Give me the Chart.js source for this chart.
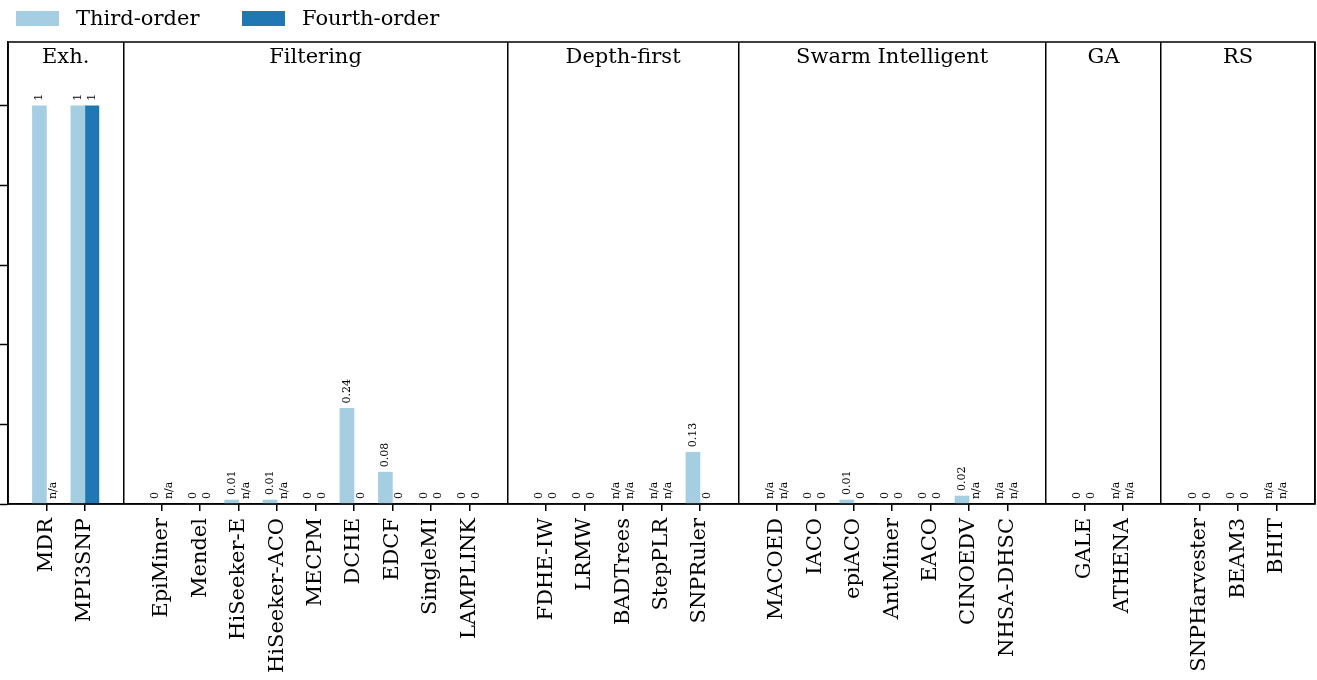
<!DOCTYPE html>
<html>
<head>
<meta charset="utf-8">
<script src="https://cdn.jsdelivr.net/npm/chart.js@4"></script>
<style>
  html, body { margin: 0; padding: 0; background: #fff; }
  #wrap { position: relative; width: 1317px; height: 680px; }
  #chart { position: absolute; left: 0; top: 0; }
  .item { position: absolute; top: 5px; height: 26px; display: flex; align-items: center;
          font-family: "DejaVu Serif", serif; font-size: 21px; color: #000; white-space: nowrap; }
  .swatch { width: 43px; height: 15px; margin-right: 17px; }
</style>
</head>
<body>
<div id="wrap">
  <canvas id="chart" width="1317" height="680"></canvas>
  <div id="legend"></div>
</div>
<script>
// Groups of methods, in drawing order
const groupNames = ["Exh.", "Filtering", "Depth-first", "Swarm Intelligent", "GA", "RS"];
const methods = [
    ["MDR", "MPI3SNP"],
    ["EpiMiner", "Mendel", "HiSeeker-E", "HiSeeker-ACO", "MECPM", "DCHE", "EDCF", "SingleMI", "LAMPLINK"],
    ["FDHE-IW", "LRMW", "BADTrees", "StepPLR", "SNPRuler"],
    ["MACOED", "IACO", "epiACO", "AntMiner", "EACO", "CINOEDV", "NHSA-DHSC"],
    ["GALE", "ATHENA"],
    ["SNPHarvester", "BEAM3", "BHIT"]
];

// null = n/a
const thirdOrder = [
    [1, 1],
    [0, 0, 0.01, 0.01, 0, 0.24, 0.08, 0, 0],
    [0, 0, null, null, 0.13],
    [null, 0, 0.01, 0, 0, 0.02, null],
    [0, null],
    [0, 0, null]
];
const fourthOrder = [
    [null, 1],
    [null, 0, null, null, 0, 0, 0, 0, 0],
    [0, 0, null, null, 0],
    [null, 0, 0, 0, 0, null, null],
    [0, null],
    [0, 0, null]
];

const seriesNames = ["Third-order", "Fourth-order"];
const seriesColors = ["#a6cee3", "#1f78b4"];
const yTicks = [0, 0.2, 0.4, 0.6, 0.8, 1.0];

// Build the category axis with an empty slot between groups
const labels = [""];
const spacer = [true];
const groupSpans = [];
const third = [null], fourth = [null];
const thirdText = [""], fourthText = [""];
const fmt = v => v == null ? "n/a" : String(v);

methods.forEach((list, g) => {
    const start = labels.length - 1;
    list.forEach((m, i) => {
        labels.push(m);
        spacer.push(false);
        third.push(thirdOrder[g][i]);
        fourth.push(fourthOrder[g][i]);
        thirdText.push(fmt(thirdOrder[g][i]));
        fourthText.push(fmt(fourthOrder[g][i]));
    });
    labels.push("");
    spacer.push(true);
    third.push(null); fourth.push(null);
    thirdText.push(""); fourthText.push("");
    groupSpans.push([start, labels.length - 1]);
});

const FONT = '"DejaVu Serif", serif';

// Value labels, group titles and the box around the plot
const annotate = {
    id: "annotate",
    afterDatasetsDraw(chart) {
        const ctx = chart.ctx, xs = chart.scales.x, ys = chart.scales.y, area = chart.chartArea;
        ctx.save();
        ctx.fillStyle = "#000";
        ctx.font = "11px " + FONT;
        chart.data.datasets.forEach((ds, di) => {
            const meta = chart.getDatasetMeta(di);
            ds.valueText.forEach((txt, i) => {
                if (!txt) return;
                const bar = meta.data[i];
                const top = ds.data[i] == null ? ys.getPixelForValue(0) : bar.y;
                ctx.save();
                ctx.translate(bar.x, top - 5);
                ctx.rotate(-Math.PI / 2);
                ctx.textAlign = "left";
                ctx.textBaseline = "middle";
                ctx.fillText(txt, 0, 0);
                ctx.restore();
            });
        });

        ctx.font = "21px " + FONT;
        ctx.textAlign = "center";
        ctx.textBaseline = "middle";
        groupSpans.forEach(([a, b], g) => {
            const cx = (xs.getPixelForValue(a) + xs.getPixelForValue(b)) / 2;
            ctx.fillText(groupNames[g], cx, area.top + 16);
        });

        ctx.strokeStyle = "#000";
        ctx.lineWidth = 1.5;
        ctx.strokeRect(area.left, area.top, area.right - area.left, area.bottom - area.top);
        ctx.restore();
    }
};

new Chart(document.getElementById("chart"), {
    type: "bar",
    data: {
        labels: labels,
        datasets: [
            { label: seriesNames[0], data: third, valueText: thirdText, backgroundColor: seriesColors[0] },
            { label: seriesNames[1], data: fourth, valueText: fourthText, backgroundColor: seriesColors[1] }
        ]
    },
    options: {
        responsive: false,
        animation: false,
        barThickness: 14,
        layout: { padding: { top: 42, right: 2, left: 0, bottom: 0 } },
        plugins: {
            legend: { display: false },
            tooltip: { enabled: false }
        },
        scales: {
            x: {
                offset: false,
                grid: {
                    offset: false,
                    drawOnChartArea: true,
                    color: c => spacer[c.index] ? "#000" : "rgba(0,0,0,0)",
                    tickColor: c => spacer[c.index] ? "rgba(0,0,0,0)" : "#000",
                    lineWidth: 1.5,
                    tickWidth: 1.5,
                    tickLength: 7
                },
                border: { display: true, color: "#000", width: 1.5 },
                ticks: {
                    autoSkip: false,
                    maxRotation: 90,
                    minRotation: 90,
                    padding: 7,
                    color: "#000",
                    font: { family: FONT, size: 21 }
                },
                afterFit: axis => {
                    axis.height = 176;
                    axis.paddingLeft = 0;
                    axis.paddingRight = 0;
                }
            },
            y: {
                min: 0,
                max: 1.16,
                afterBuildTicks: axis => { axis.ticks = yTicks.map(v => ({ value: v })); },
                grid: {
                    drawOnChartArea: false,
                    color: "#000",
                    tickLength: 8,
                    tickWidth: 1.5
                },
                border: { display: true, color: "#000", width: 1.5 },
                ticks: { display: false },
                afterFit: axis => {
                    axis.width = 8;
                    axis.paddingTop = 0;
                    axis.paddingBottom = 0;
                }
            }
        }
    },
    plugins: [annotate]
});

// Legend above the plot
const legend = document.getElementById("legend");
const legendLeft = [16, 242];
seriesNames.forEach((name, i) => {
    const item = document.createElement("div");
    item.className = "item";
    item.style.left = legendLeft[i] + "px";
    item.innerHTML = '<div class="swatch" style="background:' + seriesColors[i] + '"></div>' + name;
    legend.appendChild(item);
});
</script>
</body>
</html>
